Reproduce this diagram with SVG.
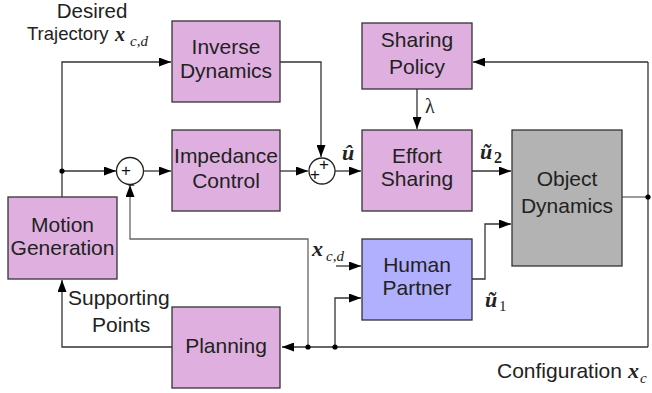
<svg xmlns="http://www.w3.org/2000/svg" width="652" height="393" viewBox="0 0 652 393">
<style>
.box{stroke:#333;stroke-width:1.3}
.pink{fill:#DFB0DF}
.blue{fill:#B0B0FF}
.gray{fill:#B3B3B3}
.t{font-family:"Liberation Sans",Arial,sans-serif;font-size:21px;fill:#222;text-anchor:middle}
.l{font-family:"Liberation Sans",Arial,sans-serif;font-size:21px;fill:#222}
.m{font-family:"Liberation Serif","Times New Roman",serif;font-style:italic;font-weight:bold;font-size:22px;fill:#222}
.s{font-family:"Liberation Serif","Times New Roman",serif;font-style:italic;font-size:15px;fill:#222}
.c{fill:none;stroke:#333;stroke-width:1.3}
.cl{fill:none;stroke:#666;stroke-width:1.3}
.sign{font-family:"Liberation Sans",Arial,sans-serif;font-size:17px;fill:#111;text-anchor:middle}
</style>
<defs>
<marker id="arr" markerUnits="userSpaceOnUse" markerWidth="13" markerHeight="9" refX="12" refY="4.5" orient="auto">
<path d="M0,0 L12,4.5 L0,9 z" fill="#000"/>
</marker>
</defs>

<g id="connectors">
<path class="c" d="M62,197 V62 H171" marker-end="url(#arr)"/>
<path class="c" d="M62,171 H116" marker-end="url(#arr)"/>
<path class="c" d="M144,171 H171" marker-end="url(#arr)"/>
<path class="c" d="M280,171 H308" marker-end="url(#arr)"/>
<path class="c" d="M280,62 H321 V157" marker-end="url(#arr)"/>
<path class="c" d="M335,171 H361" marker-end="url(#arr)"/>
<path class="c" d="M417,89 V129" marker-end="url(#arr)"/>
<path class="c" d="M472,171 H511" marker-end="url(#arr)"/>
<path class="cl" d="M622,197 H648"/>
<path class="c" d="M648,62 V347"/>
<path class="c" d="M648,62 H473" marker-end="url(#arr)"/>
<path class="c" d="M648,347 H282" marker-end="url(#arr)"/>
<path class="cl" d="M308,347 V239 H130 V185" marker-end="url(#arr)"/>
<path class="c" d="M335,347 V298 H361" marker-end="url(#arr)"/>
<path class="c" d="M336,266 H361" marker-end="url(#arr)"/>
<path class="c" d="M472,279 H485 V224 H511" marker-end="url(#arr)"/>
<path class="c" d="M172,347 H62 V280" marker-end="url(#arr)"/>
<circle cx="62" cy="171" r="2.6" fill="#000"/>
<circle cx="648" cy="197" r="2.6" fill="#000"/>
<circle cx="308" cy="347" r="2.6" fill="#000"/>
<circle cx="335" cy="347" r="2.6" fill="#000"/>
</g>

<g id="sum1">
<circle cx="130" cy="171" r="13.5" fill="#fff" stroke="#222" stroke-width="1.3"/>
<text class="sign" x="126" y="176">+</text>
<text class="sign" x="131" y="189" style="font-size:12px">−</text>
</g>
<g id="sum2">
<circle cx="322" cy="171" r="13" fill="#fff" stroke="#222" stroke-width="1.3"/>
<text class="sign" x="315" y="180">+</text>
<text class="sign" x="324" y="170">+</text>
</g>

<g id="inverse-dynamics">
<rect class="box pink" x="172" y="21" width="108" height="81"/>
<text class="t" x="226" y="54">Inverse</text>
<text class="t" x="226" y="78">Dynamics</text>
</g>
<g id="impedance-control">
<rect class="box pink" x="172" y="130" width="108" height="81"/>
<text class="t" x="226" y="163">Impedance</text>
<text class="t" x="226" y="188">Control</text>
</g>
<g id="sharing-policy">
<rect class="box pink" x="362" y="23" width="110" height="66"/>
<text class="t" x="417" y="47">Sharing</text>
<text class="t" x="417" y="74">Policy</text>
</g>
<g id="effort-sharing">
<rect class="box pink" x="362" y="130" width="110" height="81"/>
<text class="t" x="417" y="163">Effort</text>
<text class="t" x="417" y="186">Sharing</text>
</g>
<g id="object-dynamics">
<rect class="box gray" x="512" y="130" width="110" height="136"/>
<text class="t" x="567" y="186">Object</text>
<text class="t" x="567" y="213">Dynamics</text>
</g>
<g id="human-partner">
<rect class="box blue" x="362" y="239" width="110" height="81"/>
<text class="t" x="417" y="272">Human</text>
<text class="t" x="417" y="295">Partner</text>
</g>
<g id="motion-generation">
<rect class="box pink" x="8" y="197" width="109" height="82"/>
<text class="t" x="62.5" y="232">Motion</text>
<text class="t" x="62.5" y="255">Generation</text>
</g>
<g id="planning">
<rect class="box pink" x="172" y="307" width="108" height="81"/>
<text class="t" x="226" y="353">Planning</text>
</g>

<g id="labels">
<text class="l" x="92" y="18" text-anchor="middle" style="font-size:20.5px">Desired</text>
<text class="l" x="27" y="40" style="font-size:18.5px">Trajectory</text>
<text class="m" x="115" y="41" style="font-size:20px">x</text>
<text class="s" x="130" y="46">c,d</text>
<text class="m" x="342" y="160">û</text>
<text class="m" x="480" y="159">ũ</text>
<text class="m" x="494" y="163" style="font-style:normal;font-size:16px">2</text>
<text class="s" x="425" y="113" style="font-size:20px;font-style:normal">λ</text>
<text class="m" x="312" y="256">x</text>
<text class="s" x="326" y="261">c,d</text>
<text class="m" x="485" y="307">ũ</text>
<text class="s" x="499" y="311" style="font-style:normal">1</text>
<text class="l" x="68" y="305">Supporting</text>
<text class="l" x="92" y="332">Points</text>
<text class="l" x="497" y="378">Configuration</text>
<text class="m" x="628" y="378">x</text>
<text class="s" x="640" y="383">c</text>
</g>
</svg>
